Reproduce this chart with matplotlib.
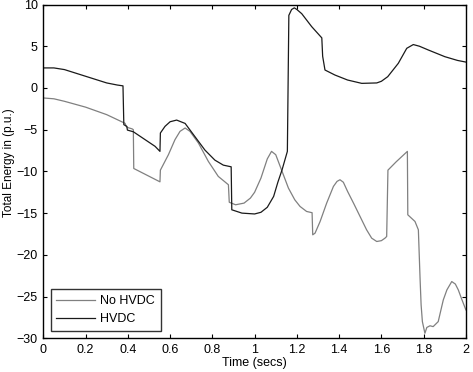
import matplotlib
matplotlib.use("Agg")
import matplotlib.pyplot as plt

plt.rcParams['font.family'] = ['Liberation Sans', 'DejaVu Sans']

# No HVDC series (gray)
t_nohvdc = [0.0, 0.05, 0.1, 0.2, 0.3, 0.387, 0.392, 0.40, 0.42, 0.426, 0.428, 0.552, 0.554,
            0.592, 0.623, 0.647, 0.671, 0.694, 0.734, 0.781, 0.828, 0.876, 0.880, 0.91, 0.95,
            0.98, 1.0, 1.03, 1.06, 1.08, 1.10, 1.13, 1.16, 1.19, 1.215, 1.246, 1.272, 1.275,
            1.286, 1.31, 1.341, 1.373, 1.39, 1.404, 1.42, 1.44, 1.47, 1.499, 1.53, 1.554,
            1.578, 1.60, 1.617, 1.625, 1.631, 1.67, 1.723, 1.725, 1.759, 1.775, 1.783, 1.788,
            1.794, 1.806, 1.815, 1.83, 1.845, 1.869, 1.88, 1.893, 1.91, 1.933, 1.95, 1.964,
            1.98, 2.0]
v_nohvdc = [-1.2, -1.3, -1.6, -2.3, -3.2, -4.24, -4.6, -4.75, -4.9, -5.0, -9.65, -11.25, -9.85,
            -8.0, -6.2, -5.2, -4.8, -5.2, -6.6, -8.8, -10.6, -11.6, -13.7, -14.0, -13.8,
            -13.2, -12.5, -10.8, -8.5, -7.6, -8.0, -10.0, -12.0, -13.4, -14.2, -14.8, -14.95, -17.6,
            -17.4, -16.0, -13.8, -11.8, -11.2, -11.0, -11.3, -12.4, -13.9, -15.4, -17.0, -18.0,
            -18.4, -18.3, -18.0, -17.8, -9.85, -8.85, -7.6, -15.2, -16.0, -17.0, -22.8, -26.0,
            -28.0, -29.4, -28.7, -28.5, -28.6, -28.0, -26.8, -25.4, -24.2, -23.2, -23.5, -24.2,
            -25.3, -26.6]

# HVDC series (black)
t_hvdc = [0.0, 0.05, 0.1, 0.2, 0.3, 0.35, 0.377, 0.381, 0.395, 0.398, 0.426, 0.529, 0.552, 0.554,
          0.576, 0.600, 0.631, 0.671, 0.718, 0.765, 0.812, 0.852, 0.889, 0.892, 0.94, 1.0,
          1.03, 1.06, 1.09, 1.11, 1.13, 1.155, 1.162, 1.175, 1.188, 1.20, 1.223, 1.27, 1.318,
          1.322, 1.333, 1.38, 1.44, 1.507, 1.578, 1.60, 1.63, 1.68, 1.72, 1.751, 1.78, 1.822,
          1.90, 1.96, 2.0]
v_hvdc = [2.4, 2.4, 2.2, 1.4, 0.6, 0.35, 0.25, -4.4, -4.6, -5.05, -5.25, -7.0, -7.6, -5.4,
          -4.6, -4.05, -3.85, -4.25, -5.85, -7.45, -8.65, -9.25, -9.45, -14.6, -15.0, -15.1,
          -14.9, -14.3, -13.0, -11.3, -9.8, -7.6, 8.7, 9.4, 9.6, 9.4, 8.9, 7.35, 6.0,
          3.8, 2.15, 1.55, 0.95, 0.55, 0.6, 0.8, 1.35, 2.95, 4.75, 5.2, 5.0, 4.55,
          3.75, 3.3, 3.1]

xticks = [0, 0.2, 0.4, 0.6, 0.8, 1, 1.2, 1.4, 1.6, 1.8, 2]
xticklabels = ["0", "0.2", "0.4", "0.6", "0.8", "1", "1.2", "1.4", "1.6", "1.8", "2"]
yticks = [-30, -25, -20, -15, -10, -5, 0, 5, 10]

fig = plt.figure(figsize=(4.73, 3.72), dpi=100)
ax = fig.add_axes([0.0916, 0.0906, 0.8934, 0.8973])

ax.plot(t_nohvdc, v_nohvdc, color='#808080', lw=0.9, label='No HVDC')
ax.plot(t_hvdc, v_hvdc, color='#1a1a1a', lw=0.9, label='HVDC')

ax.set_xlim(0, 2)
ax.set_ylim(-30, 10)
ax.set_xticks(xticks)
ax.set_xticklabels(xticklabels)
ax.set_yticks(yticks)
ax.tick_params(direction='in', top=True, right=True, labelsize=9, length=3, width=0.8, pad=4)
for s in ax.spines.values():
    s.set_linewidth(1.0)

ax.set_xlabel('Time (secs)', fontsize=9, labelpad=1)
ax.set_ylabel('Total Energy in (p.u.)', fontsize=8.5, labelpad=3)
ax.yaxis.set_label_coords(-0.067, 0.527)

leg = ax.legend(loc='lower left', fontsize=9, frameon=True, fancybox=False,
                edgecolor='black', borderpad=0.45, handlelength=3.1, labelspacing=0.5,
                borderaxespad=0.6, handletextpad=0.4)
leg.get_frame().set_linewidth(1.0)

fig.savefig('out.png', dpi=100)
